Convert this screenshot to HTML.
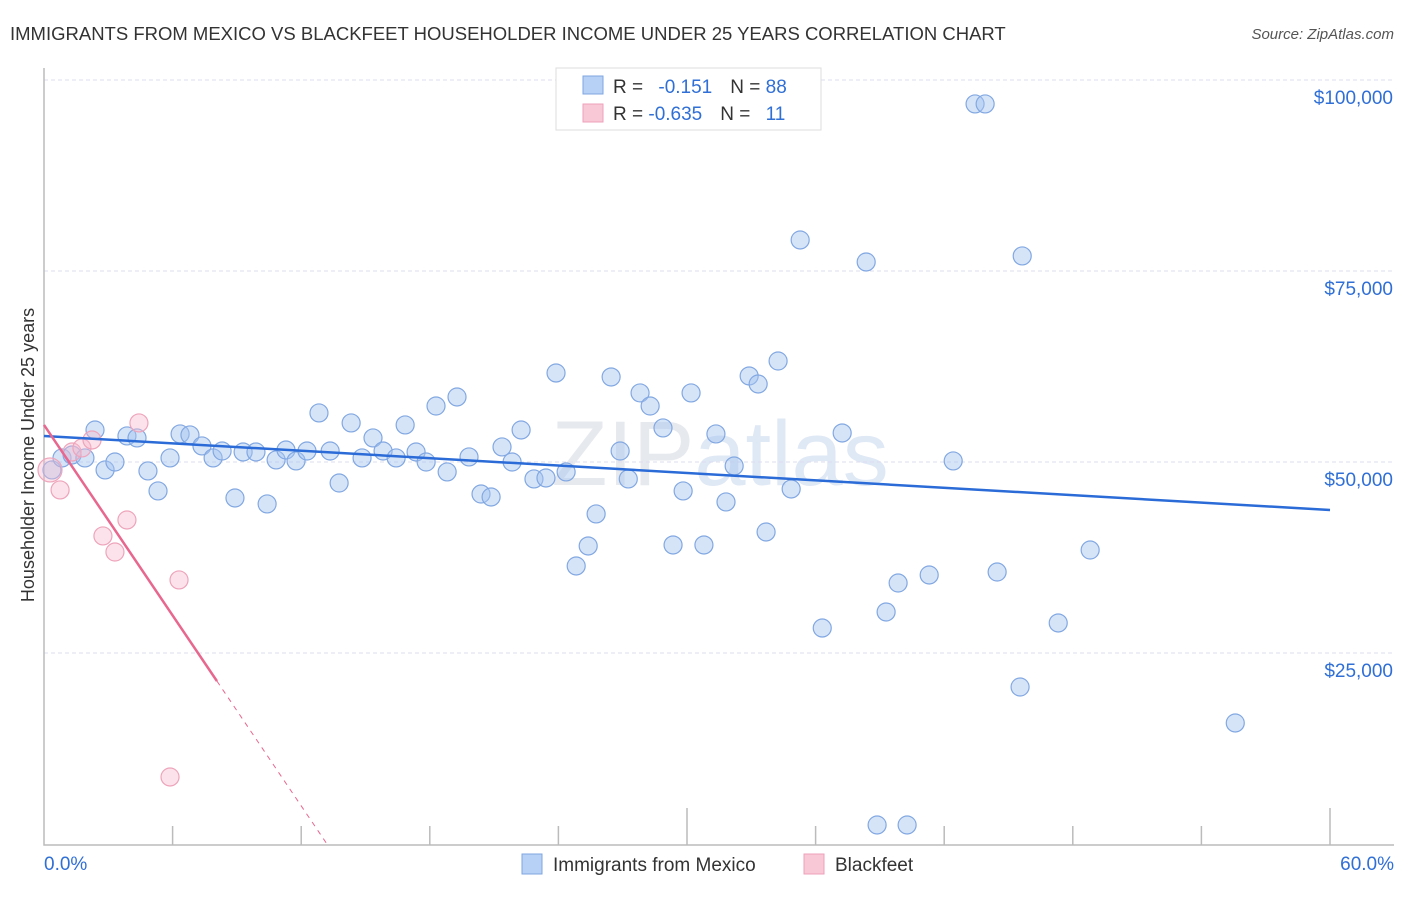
<!DOCTYPE html>
<html><head><meta charset="utf-8"><style>
body{margin:0;background:#fff;font-family:"Liberation Sans",sans-serif;}
svg text{font-family:"Liberation Sans",sans-serif;}
</style></head><body>
<svg width="1406" height="892" viewBox="0 0 1406 892">
<text x="10" y="40" font-size="18.5" fill="#333">IMMIGRANTS FROM MEXICO VS BLACKFEET HOUSEHOLDER INCOME UNDER 25 YEARS CORRELATION CHART</text>
<text x="1394" y="39" font-size="15" fill="#555" font-style="italic" text-anchor="end">Source: ZipAtlas.com</text>
<text x="720" y="485" font-size="92" fill="#e6e9ee" text-anchor="middle" font-family="Liberation Serif">ZIP<tspan font-family="Liberation Sans" fill="#dfe8f5">atlas</tspan></text>
<g id="grid"></g>
<g id="axes"></g>
<text transform="translate(34,455) rotate(-90)" font-size="18" fill="#333" text-anchor="middle">Householder Income Under 25 years</text>
<g id="pts"></g>
<g id="lines"></g>
<g>
<rect x="556" y="68" width="265" height="62" fill="#fff" stroke="#ddd"/>
<rect x="583" y="76" width="20" height="18" fill="#b7d0f5" stroke="#7fa6e0"/>
<rect x="583" y="104" width="20" height="18" fill="#f9c8d6" stroke="#eea0b8"/>
<text x="613" y="93" font-size="19" fill="#333">R = <tspan fill="#2f6fd6" dx="10">-0.151</tspan><tspan fill="#333" dx="18">N = </tspan><tspan fill="#2f6fd6">88</tspan></text>
<text x="613" y="120" font-size="19" fill="#333">R = <tspan fill="#2f6fd6">-0.635</tspan><tspan fill="#333" dx="18">N = </tspan><tspan fill="#2f6fd6" dx="10">11</tspan></text>
</g>
<g>
<rect x="522" y="854" width="20" height="20" fill="#b7d0f5" stroke="#7fa6e0"/>
<text x="553" y="871" font-size="19" fill="#333">Immigrants from Mexico</text>
<rect x="804" y="854" width="20" height="20" fill="#f9c8d6" stroke="#eea0b8"/>
<text x="835" y="871" font-size="19" fill="#333">Blackfeet</text>
</g>
</svg>
<script>
const mexX=[0.37,0.84,1.31,1.91,2.38,2.85,3.31,3.87,4.34,4.85,5.32,5.88,6.35,6.81,7.37,7.89,8.31,8.91,9.29,9.89,10.41,10.83,11.29,11.76,12.27,12.83,13.35,13.77,14.33,14.84,15.35,15.82,16.43,16.85,17.36,17.83,18.29,18.81,19.27,19.83,20.39,20.86,21.37,21.84,22.26,22.86,23.42,23.89,24.36,24.83,25.39,25.76,26.46,26.88,27.26,27.81,28.28,28.88,29.35,29.82,30.19,30.79,31.35,31.82,32.2,32.9,33.32,33.69,34.25,34.86,35.28,36.31,37.24,38.36,39.29,39.85,41.3,42.42,43.44,43.91,44.47,45.54,45.64,47.32,48.81,55.58,38.87,40.27];
const mexY=[48960,50530,50920,50530,54190,48960,50000,53410,53150,48830,46210,50530,53670,53540,52100,50530,51440,45290,51310,51310,44510,50270,51570,50140,51440,56420,51440,47250,55110,50530,53150,51440,50530,54850,51310,50000,57330,48700,58510,50660,45810,45420,51970,50000,54190,47780,47910,61650,48700,36390,39010,43200,61130,51440,47780,59040,57330,54460,39140,46210,59040,39140,53670,44770,49480,61260,60210,40840,63220,46470,79060,28270,53800,76180,30370,34160,35210,50140,96870,96870,35600,20550,76970,28930,38480,15840,2490,2490];
const bfX=[0.28,0.75,1.31,1.77,2.24,2.75,3.31,3.87,4.43,6.3,5.88];
const bfY=[48960,46340,51310,51840,52880,40320,38220,42410,55110,34560,8770];
const yTicks=[25000,50000,75000,100000];
const yTickLabels=["$25,000","$50,000","$75,000","$100,000"];
const xTicks=[0,6,12,18,24,30,36,42,48,54,60];
const mexTrend=[53410,43720];
const bfTrend=[54850,-4155];
const X=p=>44+p/60*1286, Y=v=>844-v/25000*191;
const NS="http://www.w3.org/2000/svg";
function mk(t,a,p){const e=document.createElementNS(NS,t);for(const k in a)e.setAttribute(k,a[k]);p.appendChild(e);return e;}
const grid=document.getElementById('grid'),axes=document.getElementById('axes'),pts=document.getElementById('pts'),lines=document.getElementById('lines');
yTicks.forEach((v,i)=>{
 const l=mk('line',{x1:44,x2:1394,y1:Y(v),y2:Y(v),stroke:'#dde',"stroke-dasharray":'4,3'},grid);
 
 
 const t=mk('text',{x:1393,y:Y(v)+24,"font-size":19,fill:'#2f6fd6',"text-anchor":'end'},grid);
 t.textContent=yTickLabels[i];
 
 
});
const ax=mk('path',{d:'M44,68V845H1394',fill:'none',stroke:'#bbb',"stroke-width":1.5},axes);


xTicks.forEach((p,i)=>{
 if(i===0)return;
 const tk=mk('line',{x1:X(p),x2:X(p),y1:(i===5||i===10)?808:826,y2:845,stroke:'#bbb',"stroke-width":1.5},axes);
 
 
});
const xl=mk('text',{x:44,y:870,"font-size":19,fill:'#2f6fd6'},axes);xl.textContent=xTicks[0].toFixed(1)+'%';


const xr=mk('text',{x:1394,y:870,"font-size":19,fill:'#2f6fd6',"text-anchor":'end'},axes);xr.textContent=xTicks[10].toFixed(1)+'%';


mexX.forEach((p,i)=>{
 const c=mk('circle',{cx:X(p),cy:Y(mexY[i]),r:9,fill:'rgba(165,195,240,0.45)',stroke:'#82a8e2',"stroke-width":1.2},pts);
 
 
});
bfX.forEach((p,i)=>{
 const c=mk('circle',{cx:X(p),cy:Y(bfY[i]),r:i===0?12:9,fill:'rgba(248,185,205,0.4)',stroke:'#eea4bb',"stroke-width":1.2},pts);
 
 
});
const ml=mk('line',{x1:X(0),y1:Y(mexTrend[0]),x2:X(60),y2:Y(mexTrend[1]),stroke:'#2a6bd8',"stroke-width":2.5},lines);


const pEnd=8.07, pZero=-bfTrend[0]/bfTrend[1];
const bl=mk('line',{x1:X(0),y1:Y(bfTrend[0]),x2:X(pEnd),y2:Y(bfTrend[0]+bfTrend[1]*pEnd),stroke:'#e8678f',"stroke-width":2.5},lines);


const bd=mk('line',{x1:X(pEnd),y1:Y(bfTrend[0]+bfTrend[1]*pEnd),x2:X(pZero),y2:Y(0),stroke:'#e8678f',"stroke-width":1,"stroke-dasharray":'5,5'},lines);


</script>
</body></html>
